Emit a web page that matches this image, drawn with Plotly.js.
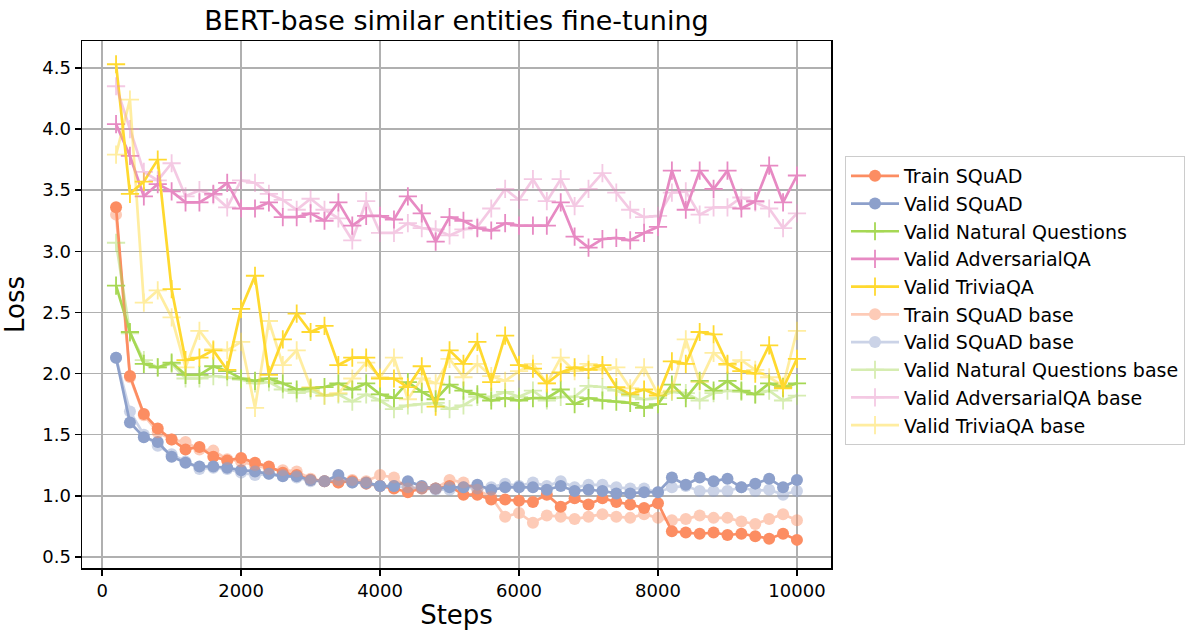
<!DOCTYPE html>
<html>
<head>
<meta charset="utf-8">
<script src="https://cdn.plot.ly/plotly-3.0.1.min.js"></script>
<style>
html,body{margin:0;padding:0;background:#fff;}
#chart{width:1192px;height:631px;}
</style>
</head>
<body>
<div id="chart"></div>
<script>
const steps = [200,400,600,800,1000,1200,1400,1600,1800,2000,2200,2400,2600,2800,3000,3200,3400,3600,3800,4000,4200,4400,4600,4800,5000,5200,5400,5600,5800,6000,6200,6400,6600,6800,7000,7200,7400,7600,7800,8000,8200,8400,8600,8800,9000,9200,9400,9600,9800,10000];

const trainSquad = [3.36,1.98,1.67,1.55,1.46,1.38,1.40,1.32,1.29,1.31,1.27,1.24,1.19,1.17,1.13,1.12,1.11,1.12,1.10,1.08,1.06,1.03,1.06,1.06,1.08,1.01,1.01,0.97,0.97,0.96,0.95,1.01,0.91,0.98,0.93,0.98,0.95,0.93,0.90,0.94,0.71,0.70,0.69,0.70,0.68,0.69,0.67,0.65,0.69,0.64];
const validSquad = [2.13,1.60,1.48,1.44,1.32,1.27,1.24,1.24,1.23,1.21,1.20,1.18,1.16,1.16,1.13,1.12,1.17,1.11,1.11,1.08,1.08,1.12,1.08,1.06,1.07,1.07,1.09,1.05,1.07,1.07,1.07,1.05,1.08,1.04,1.05,1.04,1.02,1.02,1.03,1.03,1.15,1.09,1.15,1.12,1.14,1.07,1.10,1.14,1.07,1.13];
const validNQ = [2.72,2.34,2.08,2.05,2.09,1.99,1.99,2.06,2.02,1.96,1.94,1.96,1.92,1.87,1.88,1.89,1.92,1.87,1.92,1.83,1.80,1.93,1.85,1.79,1.91,1.86,1.83,1.78,1.80,1.78,1.80,1.80,1.87,1.75,1.80,1.78,1.77,1.76,1.72,1.75,1.91,1.80,1.94,1.86,1.94,1.86,1.83,1.92,1.89,1.92];
const validAdv = [4.04,3.78,3.45,3.55,3.49,3.40,3.40,3.47,3.56,3.35,3.35,3.40,3.28,3.28,3.31,3.25,3.40,3.21,3.29,3.29,3.26,3.45,3.31,3.08,3.28,3.25,3.19,3.17,3.23,3.21,3.21,3.21,3.40,3.12,3.03,3.10,3.11,3.09,3.15,3.20,3.66,3.34,3.66,3.51,3.66,3.35,3.41,3.70,3.40,3.62];
const validTrivia = [4.53,3.47,3.57,3.75,2.69,2.11,2.13,2.19,2.03,2.53,2.80,1.99,2.28,2.49,2.34,2.39,2.07,2.13,2.13,1.96,1.96,1.89,2.06,1.73,2.19,2.08,2.26,1.93,2.31,2.07,2.04,1.92,2.01,2.05,2.03,2.07,1.89,1.83,1.87,1.82,2.10,2.08,2.34,2.32,2.08,2.02,2.00,2.23,1.88,2.12];

const trainSquadBase = [3.30,1.97,1.66,1.52,1.46,1.44,1.38,1.37,1.30,1.28,1.25,1.22,1.21,1.20,1.14,1.12,1.11,1.13,1.12,1.17,1.15,1.06,1.07,1.06,1.13,1.11,1.05,0.99,0.83,0.86,0.78,0.84,0.83,0.81,0.83,0.85,0.83,0.82,0.85,0.82,0.80,0.81,0.84,0.82,0.82,0.79,0.77,0.81,0.85,0.80];
const validSquadBase = [2.13,1.69,1.50,1.41,1.34,1.28,1.22,1.23,1.22,1.19,1.17,1.18,1.17,1.15,1.12,1.12,1.13,1.11,1.10,1.08,1.08,1.07,1.06,1.05,1.05,1.07,1.06,1.07,1.10,1.08,1.11,1.08,1.12,1.07,1.09,1.09,1.07,1.06,1.06,1.03,1.07,1.08,1.04,1.04,1.04,1.07,1.04,1.05,1.01,1.04];
const validNQBase = [3.07,2.33,2.11,2.05,2.08,1.96,1.96,1.98,1.97,1.95,1.92,1.93,1.87,1.84,1.86,1.82,1.83,1.77,1.83,1.78,1.71,1.74,1.75,1.76,1.71,1.74,1.81,1.81,1.85,1.81,1.86,1.78,1.81,1.81,1.90,1.89,1.86,1.82,1.79,1.80,1.85,1.84,1.78,1.84,1.86,1.85,1.83,1.86,1.78,1.82];
const validAdvBase = [4.35,4.00,3.65,3.58,3.72,3.45,3.50,3.46,3.36,3.58,3.56,3.47,3.42,3.34,3.43,3.34,3.27,3.09,3.41,3.15,3.15,3.23,3.19,3.18,3.13,3.18,3.20,3.35,3.51,3.42,3.59,3.41,3.59,3.37,3.51,3.64,3.48,3.34,3.28,3.29,3.48,3.49,3.30,3.36,3.36,3.44,3.40,3.35,3.19,3.31];
const validTriviaBase = [3.79,4.24,2.58,2.68,2.46,2.05,2.35,2.20,2.19,2.26,1.72,2.43,2.07,2.19,1.89,1.82,1.84,1.96,2.09,1.97,2.13,1.79,1.96,1.92,2.12,1.97,2.08,1.98,1.94,2.02,2.08,1.92,2.13,2.02,2.08,2.03,2.05,1.88,2.05,1.83,1.86,2.28,1.93,2.17,2.07,2.11,2.03,1.97,1.90,2.35];

const yTicks = [0.5,1.0,1.5,2.0,2.5,3.0,3.5,4.0,4.5];
const xTicks = [0,2000,4000,6000,8000,10000];

const C = {orange:'#fc8d62', blue:'#8da0cb', green:'#a6d854', pink:'#e78ac3', yellow:'#ffd92f'};

function tr(name, y, color, marker, opacity){
  const isCircle = marker === 'circle';
  return {
    type:'scatter', mode:'lines+markers', name:name, x:steps, y:y,
    opacity:opacity, legendgroup:name,
    line:{color:color, width:2.7},
    marker: isCircle
      ? {symbol:'circle', size:12, color:color, line:{width:0}}
      : {symbol:'cross-thin', size:13, color:color, line:{color:color, width:1.8}}
  };
}
const A = 0.45;
const data = [
  tr('Train SQuAD', trainSquad, C.orange, 'circle', 1),
  tr('Valid SQuAD', validSquad, C.blue, 'circle', 1),
  tr('Valid Natural Questions', validNQ, C.green, 'plus', 1),
  tr('Valid AdversarialQA', validAdv, C.pink, 'plus', 1),
  tr('Valid TriviaQA', validTrivia, C.yellow, 'plus', 1),
  tr('Train SQuAD base', trainSquadBase, C.orange, 'circle', A),
  tr('Valid SQuAD base', validSquadBase, C.blue, 'circle', A),
  tr('Valid Natural Questions base', validNQBase, C.green, 'plus', A),
  tr('Valid AdversarialQA base', validAdvBase, C.pink, 'plus', A),
  tr('Valid TriviaQA base', validTriviaBase, C.yellow, 'plus', A)
];

const font = 'DejaVu Sans, sans-serif';
const layout = {
  width:1192, height:631,
  margin:{l:82, r:361, t:41, b:63},
  paper_bgcolor:'#fff', plot_bgcolor:'#fff',
  font:{family:font, size:18, color:'#000'},
  title:{text:'BERT-base similar entities fine-tuning', font:{family:font, size:27, color:'#000'},
         x:0.5, xref:'paper', xanchor:'center', y:0.968, yref:'container', yanchor:'middle', automargin:false},
  xaxis:{
    range:[-290,10490], tickvals:xTicks, ticktext:xTicks.map(String), automargin:false,
    showgrid:true, gridcolor:'#b0b0b0', gridwidth:1.5, zeroline:false,
    showline:true, linecolor:'#000', linewidth:1.5, mirror:true,
    ticks:'outside', ticklen:6, tickwidth:1.5, tickcolor:'#000',
    tickfont:{family:font, size:18, color:'#000'},
    title:{text:'Steps', font:{family:font, size:26, color:'#000'}, standoff:5}
  },
  yaxis:{
    range:[0.41,4.72], tickvals:yTicks, ticktext:yTicks.map(v=>v.toFixed(1)), automargin:false,
    showgrid:true, gridcolor:'#b0b0b0', gridwidth:1.5, zeroline:false,
    showline:true, linecolor:'#000', linewidth:1.5, mirror:true,
    ticks:'outside', ticklen:6, tickwidth:1.5, tickcolor:'#000',
    tickfont:{family:font, size:18, color:'#000'},
    title:{text:'Loss', font:{family:font, size:26, color:'#000'}, standoff:10}
  },
  legend:{
    xref:'container', yref:'container',
    x:845/1192, xanchor:'left', y:1-156/631, yanchor:'top',
    bordercolor:'#cccccc', borderwidth:1, bgcolor:'rgba(255,255,255,0.8)',
    font:{family:font, size:19, color:'#000'},
    itemwidth:48, tracegroupgap:0, traceorder:'grouped'
  },
  showlegend:true
};
Plotly.newPlot('chart', data, layout, {displayModeBar:false, staticPlot:true});
</script>
</body>
</html>
